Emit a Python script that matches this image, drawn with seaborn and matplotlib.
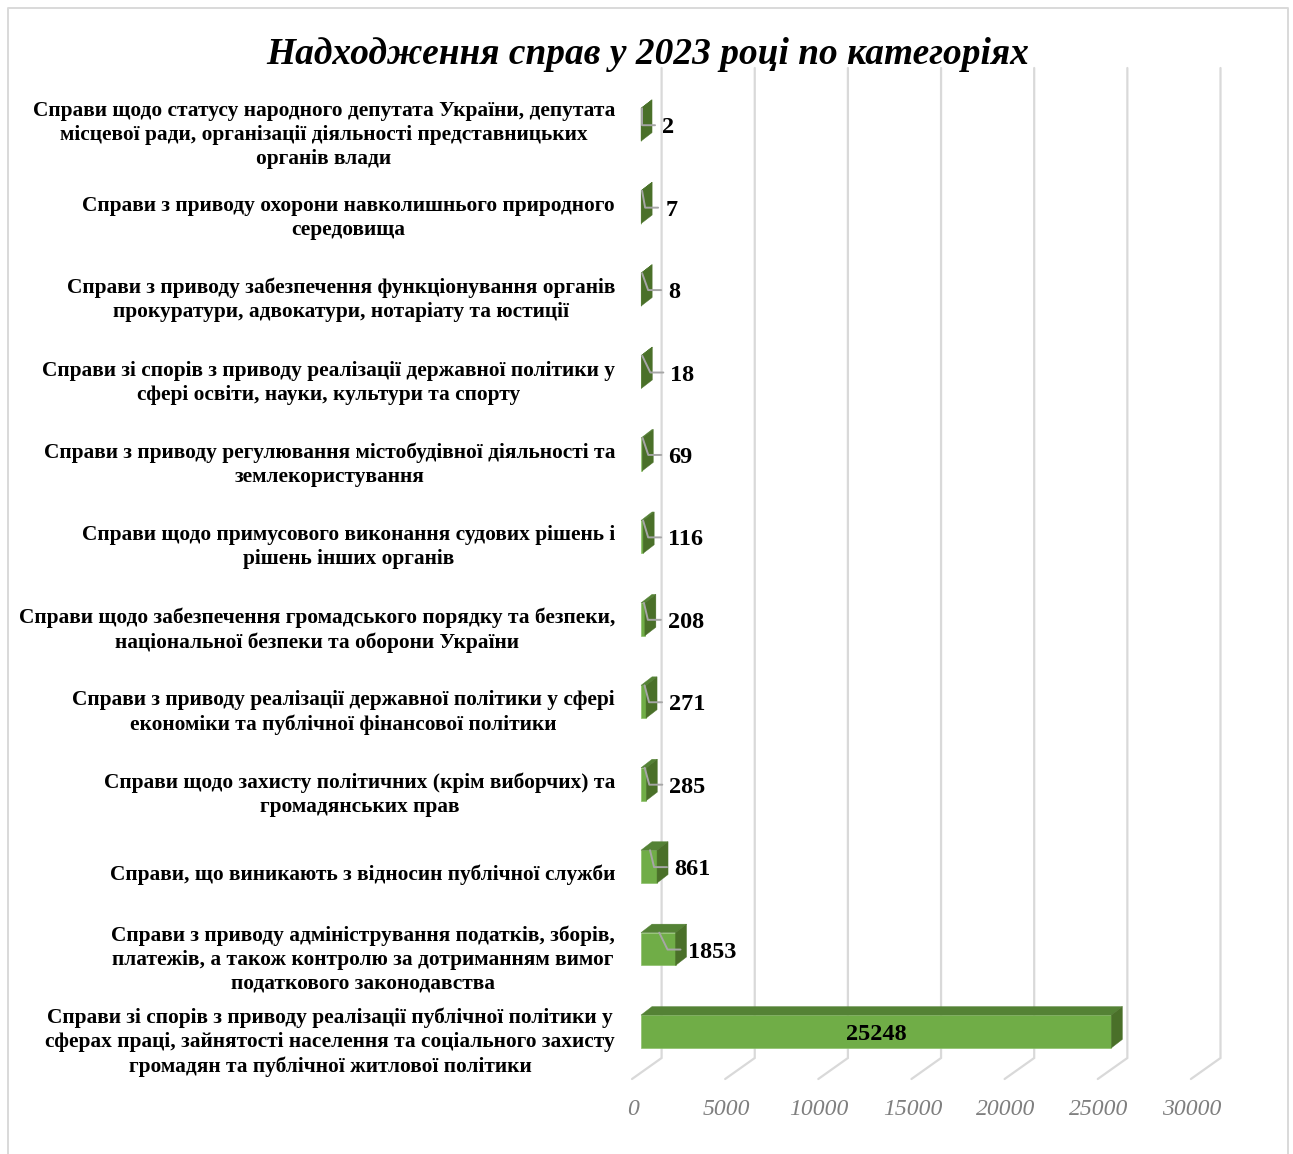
import matplotlib
matplotlib.use("Agg")
import matplotlib.pyplot as plt
from matplotlib.patches import Polygon
from matplotlib.lines import Line2D
from matplotlib.transforms import Affine2D
import pandas as pd
import seaborn as sns

categories = [
    "Справи щодо статусу народного депутата України, депутата\nмісцевої ради, організації діяльності представницьких\nорганів влади",
    "Справи з приводу охорони навколишнього природного\nсередовища",
    "Справи з приводу забезпечення функціонування органів\nпрокуратури, адвокатури, нотаріату та юстиції",
    "Справи зі спорів з приводу реалізації державної політики у\nсфері освіти, науки, культури та спорту",
    "Справи з приводу регулювання містобудівної діяльності та\nземлекористування",
    "Справи щодо примусового виконання судових рішень і\nрішень інших органів",
    "Справи щодо забезпечення громадського порядку та безпеки,\nнаціональної безпеки та оборони України",
    "Справи з приводу реалізації державної політики у сфері\nекономіки та публічної фінансової політики",
    "Справи щодо захисту політичних (крім виборчих) та\nгромадянських прав",
    "Справи, що виникають з відносин публічної служби",
    "Справи з приводу адміністрування податків, зборів,\nплатежів, а також контролю за дотриманням вимог\nподаткового законодавства",
    "Справи зі спорів з приводу реалізації публічної політики у\nсферах праці, зайнятості населення та соціального захисту\nгромадян та публічної житлової політики",
]
values = [2, 7, 8, 18, 69, 116, 208, 271, 285, 861, 1853, 25248]
x_ticks = [0, 5000, 10000, 15000, 20000, 25000, 30000]
title = "Надходження справ у 2023 році по категоріях"

W, H = 1293, 1154
SERIF = "Liberation Serif"
FRONT, TOP, SIDE = "#70AD47", "#548235", "#4A7029"
GRID, LEADER = "#D9D9D9", "#A6A6A6"
DX, DY = 11.0, 8.5           # depth of the 3-D look, pixels
GRID_DX = 20.6

sns.set_theme(style="white")
plt.rcParams["font.family"] = [SERIF, "DejaVu Sans"]

fig = plt.figure(figsize=(W / 100, H / 100), dpi=100, facecolor="white")
ax = fig.add_axes([641 / W, 1 - 1072.7 / H, 558.9 / W, 989.2 / H])
ax.patch.set_alpha(0)

df = pd.DataFrame({"category": categories, "value": values})
sns.barplot(data=df, y="category", x="value", order=categories, color=FRONT,
            saturation=1, width=0.398, orient="h", ax=ax, zorder=3,
            edgecolor="#8CC06A", linewidth=0.5)
ax.set_xlim(0, 30000)
ax.set_ylim(11.5, -0.5)
ax.set_xlabel("")
ax.set_ylabel("")
sns.despine(ax=ax, left=True, bottom=True, top=True, right=True)

# pixels of the picture (origin top-left) -> display
px = Affine2D().scale(1, -1).translate(0, H)


def to_px(x, y):
    dx, dy = ax.transData.transform((x, y))
    return dx, H - dy


# back wall lines and floor lines for each tick
for t in x_ticks:
    x0, _ = to_px(t, 0)
    fig.add_artist(Line2D([x0 + GRID_DX, x0 + GRID_DX, x0 - 9],
                          [68, 1058, 1079], transform=px, color=GRID, lw=1.6,
                          solid_joinstyle="miter", zorder=0))

# outer chart frame
fig.add_artist(Line2D([8, 8, 1288, 1288], [H, 8, 8, H], transform=px,
                      color=GRID, lw=1.4, zorder=0))

ax.set_xticks(x_ticks)
ax.set_xticklabels([str(t) for t in x_ticks], fontsize=17, fontstyle="italic",
                   color="#7F7F7F", family=SERIF)
ax.tick_params(axis="x", length=0, pad=18.7)
for lab in ax.get_xticklabels():
    lab.set_transform(lab.get_transform() + Affine2D().translate(-8, 0))

ax.tick_params(axis="y", length=0, pad=18.7)
ax.set_yticks(range(len(categories)))
ax.set_yticklabels(categories, fontsize=15.4, fontweight="bold", color="black",
                   family=SERIF, linespacing=1.27, multialignment="center")
for lab in ax.get_yticklabels():
    lab.set_transform(lab.get_transform() + Affine2D().translate(0, -6))

# 3-D faces, derived from the bars seaborn drew
label_gap = [21, 24, 27, 29, 26, 25, 23, 23, 23, 17, 12]
for i, (bar, v) in enumerate(zip(ax.patches, values)):
    x0, y_a = to_px(bar.get_x(), bar.get_y())
    x1, y_b = to_px(bar.get_x() + bar.get_width(), bar.get_y() + bar.get_height())
    top, bot = min(y_a, y_b), max(y_a, y_b)
    mid = (top + bot) / 2
    fig.add_artist(Polygon([(x0, top), (x1, top), (x1 + DX, top - DY), (x0 + DX, top - DY)],
                           closed=True, transform=px, facecolor=TOP,
                           edgecolor=TOP, lw=0.3, zorder=4))
    fig.add_artist(Polygon([(x1, top), (x1 + DX, top - DY), (x1 + DX, bot - DY), (x1, bot)],
                           closed=True, transform=px, facecolor=SIDE,
                           edgecolor=SIDE, lw=0.3, zorder=4))
    if i < len(label_gap):
        left = x1 + label_gap[i]
        lead_y = mid + 0.5
        fig.add_artist(Line2D([(x0 + x1) / 2 + 1, left - 20, left - 7],
                              [top, lead_y, lead_y], transform=px,
                              color=LEADER, lw=1.4, zorder=5))
        fig.text(left, mid + 0.5, str(v), transform=px, ha="left", va="center_baseline",
                 fontsize=17.5, fontweight="bold", color="black", family=SERIF, zorder=6)
    else:
        fig.text((x0 + x1) / 2, mid + 0.5, str(v), transform=px, ha="center",
                 va="center_baseline", fontsize=17.5, fontweight="bold",
                 color="black", family=SERIF, zorder=6)

fig.text(648, 50, title, transform=px, ha="center", va="center_baseline",
         fontsize=26.9, fontweight="bold", fontstyle="italic", color="black", family=SERIF)

fig.savefig("out.png", dpi=100, facecolor="white")
